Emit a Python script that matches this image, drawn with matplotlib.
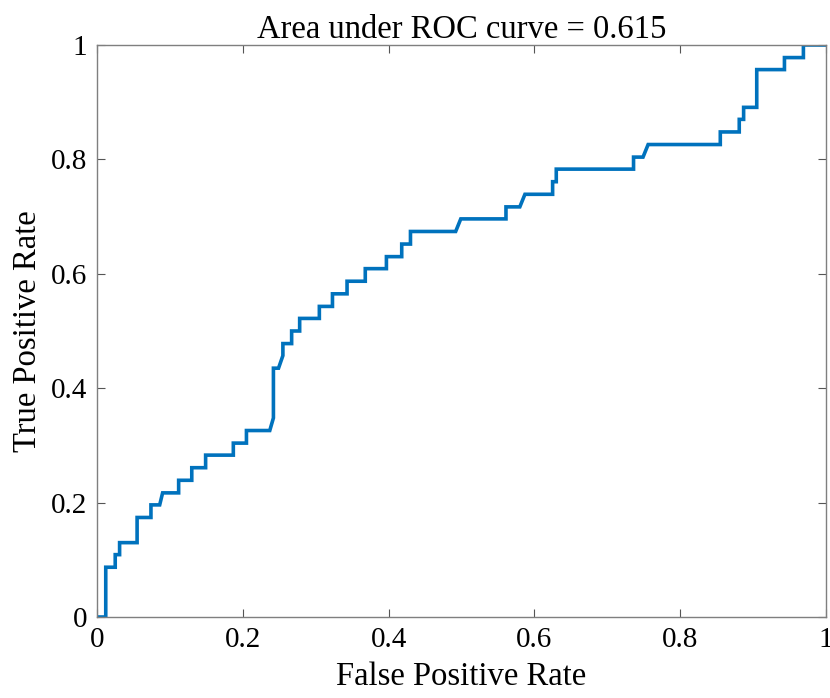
import matplotlib
matplotlib.use("Agg")
import matplotlib.pyplot as plt

fpr = [0.0, 0.012, 0.012, 0.025, 0.025, 0.031, 0.031, 0.055, 0.055, 0.074, 0.074,
       0.086, 0.090, 0.112, 0.112, 0.130, 0.130, 0.149, 0.149, 0.187, 0.187,
       0.205, 0.205, 0.237, 0.242, 0.242, 0.249, 0.255, 0.255, 0.267, 0.267,
       0.278, 0.278, 0.305, 0.305, 0.323, 0.323, 0.343, 0.343, 0.368, 0.368,
       0.397, 0.397, 0.418, 0.418, 0.430, 0.430, 0.492, 0.499, 0.561, 0.561,
       0.580, 0.587, 0.625, 0.625, 0.630, 0.630, 0.736, 0.736, 0.749, 0.756,
       0.855, 0.855, 0.881, 0.881, 0.887, 0.887, 0.905, 0.905, 0.943, 0.943,
       0.969, 0.969, 1.0]
tpr = [0.0, 0.0, 0.087, 0.087, 0.109, 0.109, 0.130, 0.130, 0.174, 0.174, 0.196,
       0.196, 0.217, 0.217, 0.239, 0.239, 0.261, 0.261, 0.283, 0.283, 0.304,
       0.304, 0.326, 0.326, 0.348, 0.435, 0.435, 0.457, 0.478, 0.478, 0.500,
       0.500, 0.522, 0.522, 0.543, 0.543, 0.565, 0.565, 0.587, 0.587, 0.609,
       0.609, 0.630, 0.630, 0.652, 0.652, 0.674, 0.674, 0.696, 0.696, 0.717,
       0.717, 0.739, 0.739, 0.761, 0.761, 0.783, 0.783, 0.804, 0.804, 0.826,
       0.826, 0.848, 0.848, 0.870, 0.870, 0.891, 0.891, 0.957, 0.957, 0.978,
       0.978, 1.0, 1.0]

title = "Area under ROC curve = 0.615"
xlabel = "False Positive Rate"
ylabel = "True Positive Rate"
ticks = [0, 0.2, 0.4, 0.6, 0.8, 1]
ticklabels = ["0", "0.2", "0.4", "0.6", "0.8", "1"]

plt.rcParams['font.family'] = ['Liberation Serif', 'DejaVu Serif']

fig = plt.figure(figsize=(8.3, 6.98), dpi=100)
ax = fig.add_axes([97/830, 1-617/698, (826-97)/830, (617-45)/698])
ax.plot(fpr, tpr, color='#0072BD', linewidth=2.6, solid_joinstyle='miter')
ax.set_xlim(0, 1)
ax.set_ylim(0, 1)
ax.set_xticks(ticks)
ax.set_xticklabels(ticklabels)
ax.set_yticks(ticks)
ax.set_yticklabels(ticklabels)
ax.tick_params(direction='in', top=True, right=True, labelsize=21, length=6,
               width=0.8, color='#555555', pad=7)
for s in ax.spines.values():
    s.set_color('#7f7f7f')
    s.set_linewidth(1.0)
ax.set_title(title, fontsize=23.5, pad=5)
ax.set_xlabel(xlabel, fontsize=23.5, labelpad=6)
ax.set_ylabel(ylabel, fontsize=23.5, labelpad=6)
fig.savefig("out.png", dpi=100)
